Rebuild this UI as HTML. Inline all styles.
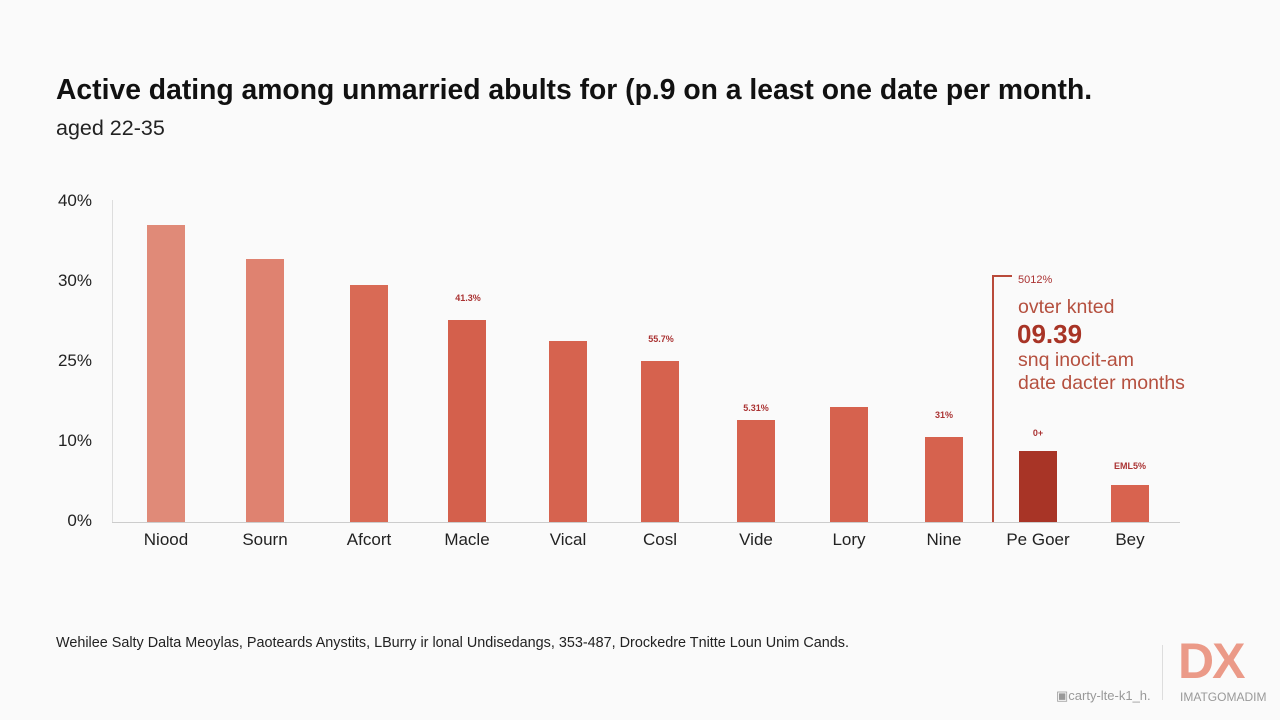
<!DOCTYPE html>
<html><head><meta charset="utf-8"><style>
body{margin:0;width:1280px;height:720px;background:#fafafa;font-family:"Liberation Sans",sans-serif;position:relative;overflow:hidden}
div,span{position:absolute}
.t{font-size:28.3px;font-weight:bold;color:#111;left:56px;top:73px}
.s{font-size:21.5px;color:#222;left:56px;top:116px}
.y{font-size:17px;color:#222;width:60px;text-align:right;left:32px}
.b{width:38px}
.x{font-size:17px;color:#222;width:120px;text-align:center;top:530px}
.v{font-size:9px;color:#a33;width:60px;text-align:center;font-weight:bold}
</style></head><body>
<div class="t">Active dating among unmarried abults for (p.9 on a least one date per month.</div>
<div class="s">aged 22-35</div>
<div class="y" style="top:191px">40%</div>
<div class="y" style="top:271px">30%</div>
<div class="y" style="top:351px">25%</div>
<div class="y" style="top:431px">10%</div>
<div class="y" style="top:511px">0%</div>
<div style="left:112px;top:200px;width:1px;height:322px;background:#ddd"></div>
<div style="left:112px;top:522px;width:1068px;height:1px;background:#ccc"></div>
<div class="b" style="left:147px;top:225px;height:297px;background:#e08a78"></div>
<div class="b" style="left:246px;top:259px;height:263px;background:#df8270"></div>
<div class="b" style="left:350px;top:285px;height:237px;background:#d96a55"></div>
<div class="b" style="left:448px;top:320px;height:202px;background:#d4604c"></div>
<div class="b" style="left:549px;top:341px;height:181px;background:#d6634f"></div>
<div class="b" style="left:641px;top:361px;height:161px;background:#d6624e"></div>
<div class="b" style="left:737px;top:420px;height:102px;background:#d6624e"></div>
<div class="b" style="left:830px;top:407px;height:115px;background:#d6624e"></div>
<div class="b" style="left:925px;top:437px;height:85px;background:#d6624e"></div>
<div class="b" style="left:1019px;top:451px;height:71px;background:#a83426"></div>
<div class="b" style="left:1111px;top:485px;height:37px;background:#d8634f"></div>
<div class="v" style="left:438px;top:293px">41.3%</div>
<div class="v" style="left:631px;top:334px">55.7%</div>
<div class="v" style="left:726px;top:403px">5.31%</div>
<div class="v" style="left:914px;top:410px">31%</div>
<div class="v" style="left:1008px;top:428px">0+</div>
<div class="v" style="left:1100px;top:461px">EML5%</div>
<div class="x" style="left:106px">Niood</div>
<div class="x" style="left:205px">Sourn</div>
<div class="x" style="left:309px">Afcort</div>
<div class="x" style="left:407px">Macle</div>
<div class="x" style="left:508px">Vical</div>
<div class="x" style="left:600px">Cosl</div>
<div class="x" style="left:696px">Vide</div>
<div class="x" style="left:789px">Lory</div>
<div class="x" style="left:884px">Nine</div>
<div class="x" style="left:978px">Pe Goer</div>
<div class="x" style="left:1070px">Bey</div>
<div style="left:992px;top:275px;width:2px;height:247px;background:#b94a3a"></div>
<div style="left:992px;top:275px;width:20px;height:2px;background:#b94a3a"></div>
<div style="left:1018px;top:274px;font-size:11px;color:#a33">5012%</div>
<div style="left:1018px;top:296px;font-size:19.5px;color:#b5503f">ovter knted</div>
<div style="left:1017px;top:319px;font-size:26px;font-weight:bold;color:#a83426">09.39</div>
<div style="left:1018px;top:349px;font-size:19.5px;color:#b5503f">snq inocit-am</div>
<div style="left:1018px;top:372px;font-size:19.5px;color:#b5503f">date dacter months</div>
<div style="left:56px;top:635px;font-size:14.4px;color:#222">Wehilee Salty Dalta Meoylas, Paoteards Anystits, LBurry ir lonal Undisedangs, 353-487, Drockedre Tnitte Loun Unim Cands.</div>
<div style="left:1162px;top:645px;width:1px;height:55px;background:#ddd"></div>
<div style="left:1178px;top:632px;font-size:50px;font-weight:bold;color:#eb9a88;letter-spacing:-2px">DX</div>
<div style="left:1056px;top:688px;font-size:13px;color:#999">▣carty-lte-k1_h.</div>
<div style="left:1180px;top:690px;font-size:12px;color:#999">IMATGOMADIM</div>
</body></html>
